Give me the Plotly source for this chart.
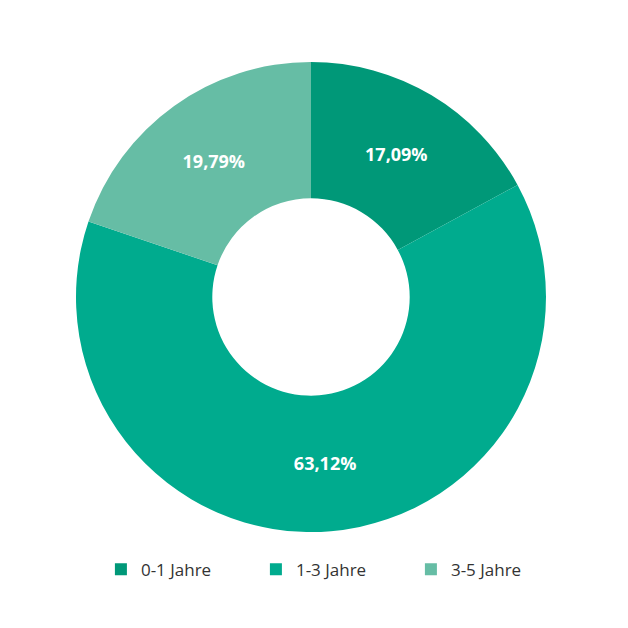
import plotly.graph_objects as go

labels = ["0-1 Jahre", "1-3 Jahre", "3-5 Jahre"]
values = [17.09, 63.12, 19.79]
text_labels = ["17,09%", "63,12%", "19,79%"]
colors = ["#009878", "#00AB8E", "#66BDA5"]

fig = go.Figure(go.Pie(
    labels=labels,
    values=values,
    text=text_labels,
    textinfo="text",
    textposition="inside",
    insidetextorientation="horizontal",
    textfont=dict(family="Open Sans", size=18, color="white", weight="bold"),
    marker=dict(colors=colors, line=dict(width=0)),
    hole=0.42,
    sort=False,
    direction="clockwise",
    rotation=0,
    hoverinfo="label+percent",
))

fig.update_layout(
    width=628, height=628,
    margin=dict(l=68, r=90, t=54, b=104),
    paper_bgcolor="white",
    plot_bgcolor="white",
    showlegend=True,
    legend=dict(
        orientation="h",
        x=0.053, xanchor="left",
        y=-0.08, yanchor="middle",
        font=dict(family="Open Sans", size=17, color="#333333"),
        entrywidth=110, entrywidthmode="pixels",
        itemwidth=30,
    ),
)

fig.write_html("out.html")
